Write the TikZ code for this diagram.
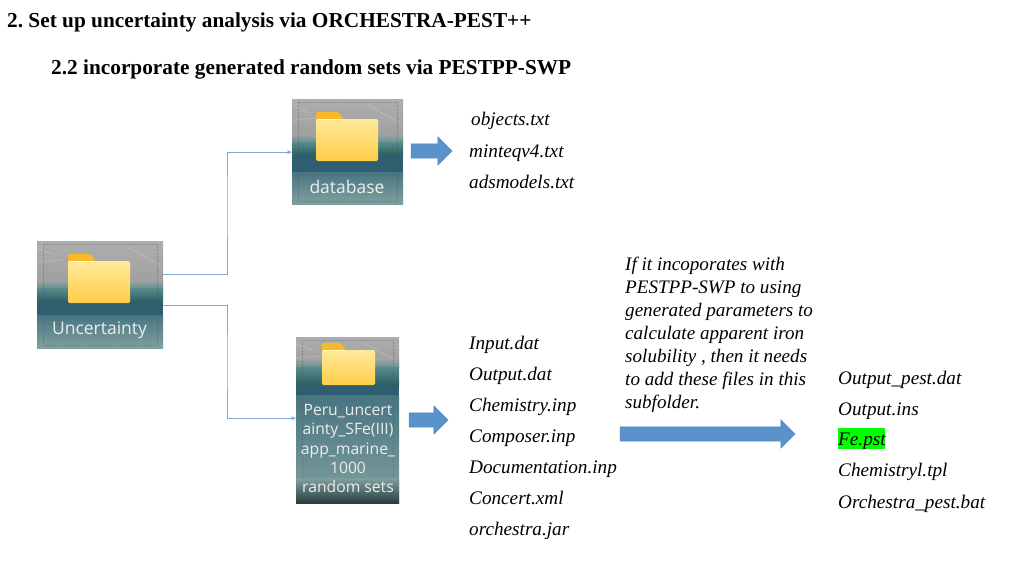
\documentclass[tikz,border=0pt]{standalone}
\usepackage{fontspec}
\setmainfont{Liberation Serif}
\newfontfamily\tilefont{Open Sans}
\usetikzlibrary{shapes.arrows,arrows.meta}
\definecolor{linkblue}{HTML}{7FA8D6}
\definecolor{arrowfill}{HTML}{5A93CB}
\definecolor{arrowline}{HTML}{4F86BC}
\definecolor{hl}{HTML}{00FF00}
\tikzset{
  titletext/.style={font=\fontsize{21.3}{25}\selectfont\bfseries\frenchspacing,anchor=base west,inner sep=0pt,text=black},
  filetext/.style={font=\fontsize{19.2}{23}\selectfont\itshape,anchor=base west,inner sep=0pt,text=black},
  paratext/.style={font=\fontsize{19.1}{23}\selectfont\itshape,anchor=north west,inner sep=0pt,align=left,text=black},
  tilelabel/.style={font=\tilefont,text=white!93!black,inner sep=0pt,align=center},
  link/.style={draw=linkblue,line width=0.9pt,-{Stealth[length=5pt,width=4pt]}},
  blockarrow/.style={single arrow,single arrow head extend=7pt,single arrow tip angle=90,
    fill=arrowfill,draw=arrowline,line width=0.4pt,inner sep=0pt,shape border rotate=0},
  tilebox/.style={rectangle,inner sep=0pt,draw=none}
}
% name, x0, y0, x1, y1, gray end, teal end, dark end
\newcommand{\tile}[8]{%
  \fill[top color=black!32!white,bottom color=black!38!white] (#2,#3) rectangle (#4,#6);
  \draw[white!72!gray,line width=1.5pt,opacity=.22] (#2,{#3+7}) -- ({#2+18},{#3+14}) ({#4-35},{#3+6}) -- ({#4-3},{#3+24}) (#2,{#3+21}) -- ({#2+25},{#3+19});
  \fill[top color=black!36!white,bottom color=teal!42!gray!85!white] (#2,{#6-8}) rectangle (#4,#6);
  \fill[top color=teal!45!gray!90!white,bottom color=teal!55!gray!75!black] (#2,#6) rectangle (#4,#7);
  \fill[color={rgb,255:red,47;green,94;blue,112}] (#2,#7) rectangle (#4,#8);
  \fill[top color={rgb,255:red,72;green,116;blue,128},bottom color={rgb,255:red,128;green,160;blue,160}] (#2,#8) rectangle (#4,#5);
  \draw[gray!60!black,opacity=.3,line width=0.4pt,densely dotted] ({#2+6},{#3+3}) rectangle ({#4-6},{#5-3});
  \node[tilebox,minimum width={#4-#2},minimum height={#5-#3},anchor=north west] (#1) at (#2,#3) {};
}
% x0, y0, x1, y1
\newcommand{\folder}[4]{%
  \fill[color={rgb,255:red,250;green,186;blue,40},rounded corners=1.5pt] (#1,{#2+8}) -- (#1,#2) -- ({#1+(#3-#1)*0.36},#2) -- ({#1+(#3-#1)*0.45},{#2+7}) -- ({#1+(#3-#1)*0.45},{#2+12}) -- (#1,{#2+12}) -- cycle;
  \shade[top color={rgb,255:red,255;green,234;blue,155},bottom color={rgb,255:red,255;green,204;blue,72},rounded corners=1.5pt] (#1,{#2+7}) rectangle (#3,#4);
  \draw[white!70!yellow,line width=0.8pt] ({#1+1},{#2+7.5}) -- ({#1+(#3-#1)*0.42},{#2+7.5});
}
\newcommand{\shaftrule}{\rule{0pt}{14pt}}
\begin{document}
\begin{tikzpicture}[x=1pt,y=-1pt]
\useasboundingbox (0,0) rectangle (1024,576);
\fill[white] (0,0) rectangle (1024,576);

\node[titletext] (t1) at (7,27) {2. Set up uncertainty analysis via ORCHESTRA-PEST++};
\node[titletext] (t2) at (51,74) {2.2 incorporate generated random sets via PESTPP-SWP};

% tiles
\tile{db}{292}{99}{403}{204}{142}{155}{172}
\folder{316}{112}{378}{161}
\node[tilelabel,font=\tilefont\fontsize{17.5}{20}\selectfont] (dbl) at (347,187) {database};

\tile{unc}{37}{241}{163}{348}{288}{302}{315}
\folder{68}{254}{130}{303}
\node[tilelabel,font=\tilefont\fontsize{17.5}{20}\selectfont] (uncl) at (99.5,330) {Uncertainty};

\tile{peru}{296}{337}{399}{503}{367}{385}{395}
\fill[top color={rgb,255:red,128;green,160;blue,160},bottom color={rgb,255:red,40;green,62;blue,62}] (296,478) rectangle (399,503);
\folder{322}{343}{375}{385}
\node[tilelabel,font=\tilefont\fontsize{15.7}{19.4}\selectfont] (perul) at (348,448.5) {Peru\_uncert\\ainty\_SFe(III)\\app\_marine\_\\1000\\random sets};

% connectors
\coordinate (u1) at ([yshift=20.5pt]unc.east);
\coordinate (u2) at ([yshift=-10.5pt]unc.east);
\coordinate (d1) at ([yshift=-0.5pt]db.west);
\coordinate (p1) at ([yshift=2pt]peru.west);
\coordinate (busup) at (227,200);
\coordinate (busdown) at (227,360);
\draw[link] (u1) -| (busup) |- (d1);
\draw[link] (u2) -| (busdown) |- (p1);

% block arrows
\node[blockarrow,minimum height=41pt] (a1) at (428,151) {\shaftrule};
\node[blockarrow,minimum height=39pt] (a2) at (425,420) {\shaftrule};
\node[blockarrow,minimum height=175pt] (a3) at (704,434) {\shaftrule};

% file lists
\node[filetext] (f1) at (471,125) {objects.txt};
\node[filetext] (f2) at (469,157) {minteqv4.txt};
\node[filetext] (f3) at (469,188) {adsmodels.txt};

\node[filetext] (g1) at (469,349) {Input.dat};
\node[filetext] (g2) at (469,380) {Output.dat};
\node[filetext] (g3) at (469,411) {Chemistry.inp};
\node[filetext] (g4) at (469,442) {Composer.inp};
\node[filetext] (g5) at (469,473) {Documentation.inp};
\node[filetext] (g6) at (469,504) {Concert.xml};
\node[filetext] (g7) at (469,535) {orchestra.jar};

\node[paratext] (para) at (625,257) {If it incoporates with\\PESTPP-SWP to using\\generated parameters to\\calculate apparent iron\\solubility , then it needs\\to add these files in this\\subfolder.};

\node[filetext] (h1) at (838,384) {Output\_pest.dat};
\node[filetext] (h2) at (838,415) {Output.ins};
\fill[hl] (838,428) rectangle (885,449);
\node[filetext] (h3) at (838,445) {Fe.pst};
\node[filetext] (h4) at (838,476) {Chemistryl.tpl};
\node[filetext] (h5) at (838,508) {Orchestra\_pest.bat};
\end{tikzpicture}
\end{document}
